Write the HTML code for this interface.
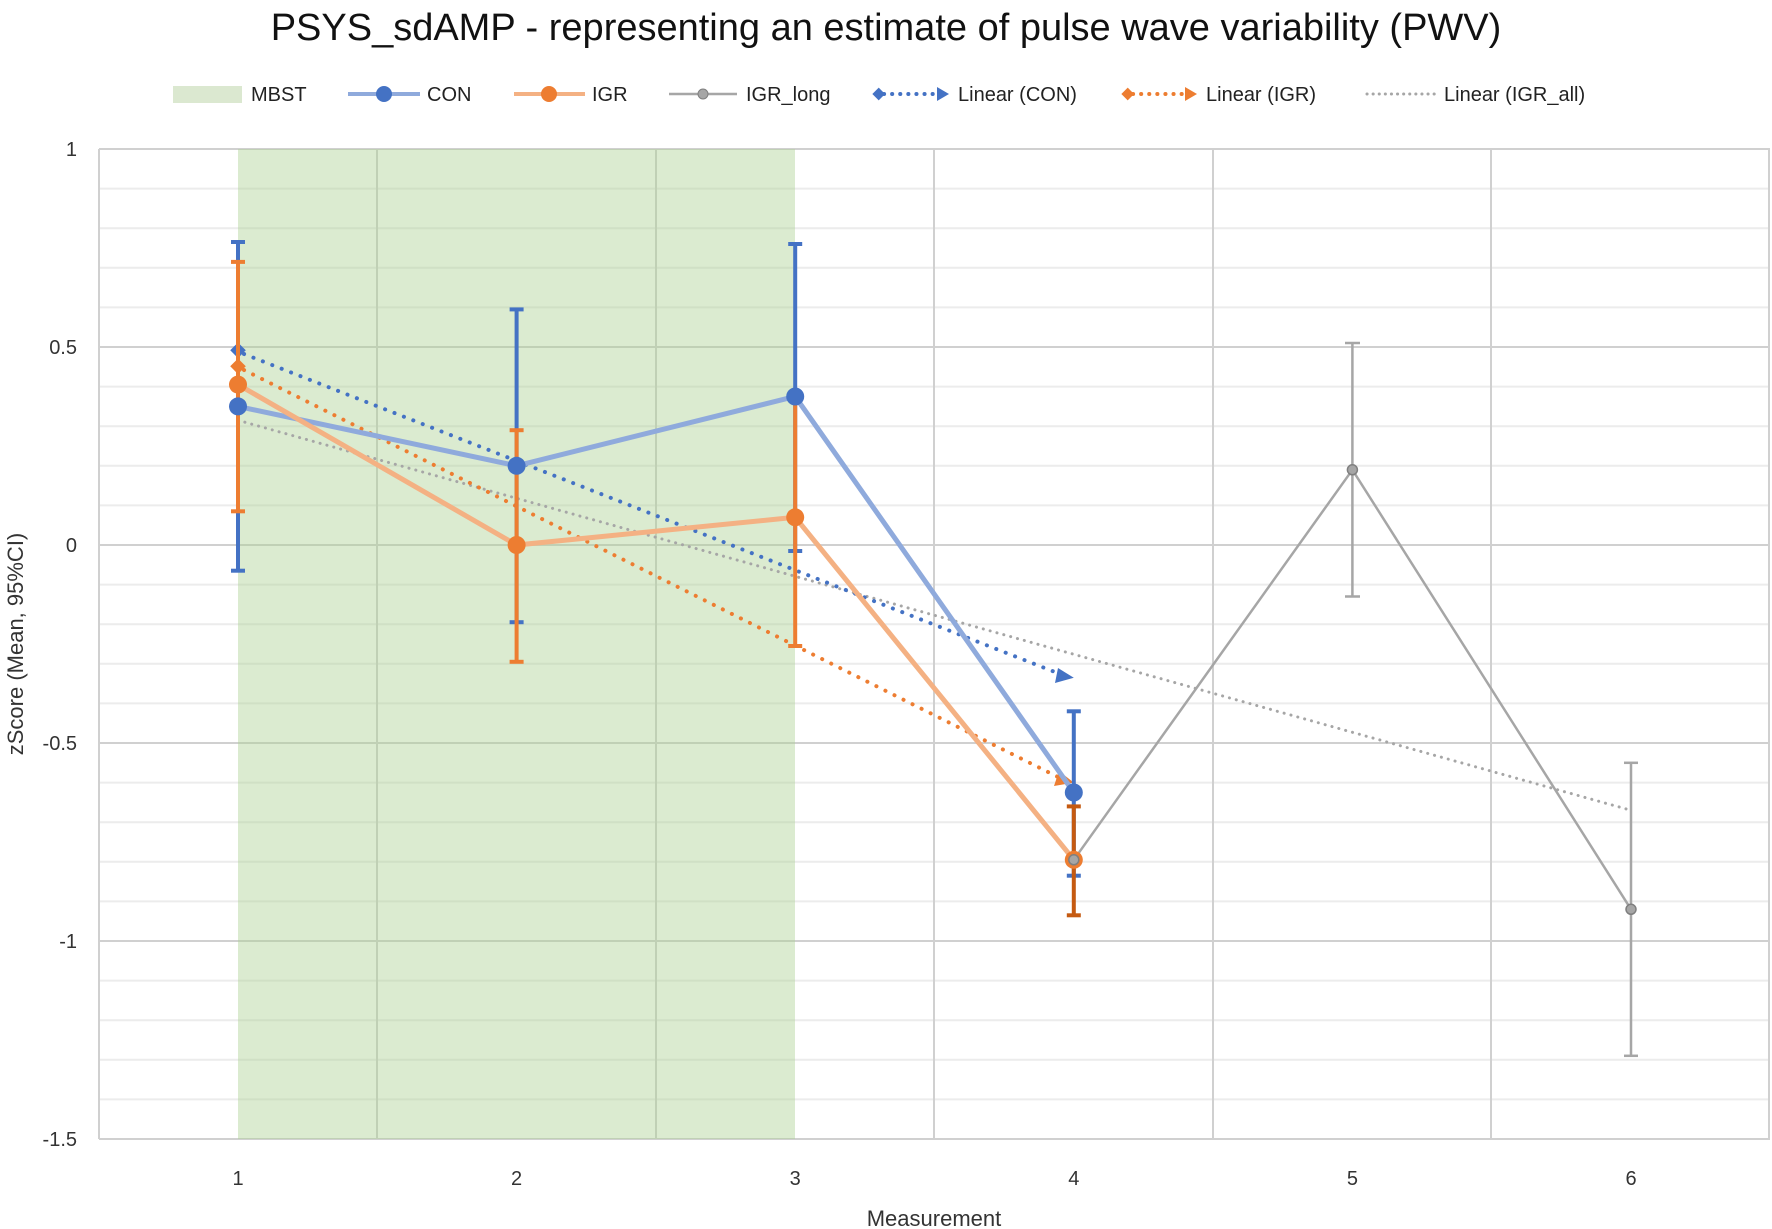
<!DOCTYPE html>
<html><head><meta charset="utf-8"><style>body{margin:0;background:#fff}svg{display:block}text{font-family:"Liberation Sans",sans-serif}</style></head><body>
<svg width="1772" height="1229" viewBox="0 0 1772 1229" xmlns="http://www.w3.org/2000/svg">
<rect width="1772" height="1229" fill="#fff"/>
<text x="886" y="40" font-size="38" text-anchor="middle" fill="#111">PSYS_sdAMP - representing an estimate of pulse wave variability (PWV)</text>
<!-- minor grid -->
<g stroke="#ececec" stroke-width="2">
<line x1="99" x2="1770" y1="188.6" y2="188.6"/><line x1="99" x2="1770" y1="228.2" y2="228.2"/><line x1="99" x2="1770" y1="267.8" y2="267.8"/><line x1="99" x2="1770" y1="307.4" y2="307.4"/>
<line x1="99" x2="1770" y1="386.6" y2="386.6"/><line x1="99" x2="1770" y1="426.2" y2="426.2"/><line x1="99" x2="1770" y1="465.8" y2="465.8"/><line x1="99" x2="1770" y1="505.4" y2="505.4"/>
<line x1="99" x2="1770" y1="584.6" y2="584.6"/><line x1="99" x2="1770" y1="624.2" y2="624.2"/><line x1="99" x2="1770" y1="663.8" y2="663.8"/><line x1="99" x2="1770" y1="703.4" y2="703.4"/>
<line x1="99" x2="1770" y1="782.6" y2="782.6"/><line x1="99" x2="1770" y1="822.2" y2="822.2"/><line x1="99" x2="1770" y1="861.8" y2="861.8"/><line x1="99" x2="1770" y1="901.4" y2="901.4"/>
<line x1="99" x2="1770" y1="980.6" y2="980.6"/><line x1="99" x2="1770" y1="1020.2" y2="1020.2"/><line x1="99" x2="1770" y1="1059.8" y2="1059.8"/><line x1="99" x2="1770" y1="1099.4" y2="1099.4"/>
</g>
<g stroke="#d0d0d0" stroke-width="2">
<line x1="99" x2="1770" y1="149" y2="149"/><line x1="99" x2="1770" y1="347" y2="347"/><line x1="99" x2="1770" y1="545" y2="545"/><line x1="99" x2="1770" y1="743" y2="743"/><line x1="99" x2="1770" y1="941" y2="941"/><line x1="99" x2="1770" y1="1139" y2="1139"/>
<line x1="99" x2="99" y1="149" y2="1139"/><line x1="377" x2="377" y1="149" y2="1139"/><line x1="656" x2="656" y1="149" y2="1139"/><line x1="934" x2="934" y1="149" y2="1139"/><line x1="1213" x2="1213" y1="149" y2="1139"/><line x1="1491" x2="1491" y1="149" y2="1139"/><line x1="1769" x2="1769" y1="149" y2="1139"/>
</g>
<rect x="238" y="149" width="557" height="990" fill="rgb(169,208,142)" fill-opacity="0.42"/>
<!-- tick labels -->
<g font-size="20" fill="#333" text-anchor="end">
<text x="77" y="156">1</text><text x="77" y="354">0.5</text><text x="77" y="552">0</text><text x="77" y="750">-0.5</text><text x="77" y="948">-1</text><text x="77" y="1146">-1.5</text>
</g>
<g font-size="20" fill="#333" text-anchor="middle">
<text x="238" y="1185">1</text><text x="516.6" y="1185">2</text><text x="795.2" y="1185">3</text><text x="1073.8" y="1185">4</text><text x="1352.4" y="1185">5</text><text x="1631" y="1185">6</text>
</g>
<text x="934" y="1226" font-size="22" fill="#333" text-anchor="middle">Measurement</text>
<text transform="translate(23,644) rotate(-90)" font-size="22" fill="#333" text-anchor="middle">zScore (Mean, 95%CI)</text>
<!-- trendlines -->
<line x1="238" y1="420.3" x2="1631" y2="810.3" stroke="#a6a6a6" stroke-width="3" stroke-dasharray="0.1 7" stroke-linecap="round"/>
<line x1="244" y1="354" x2="1060" y2="674" stroke="#4472c4" stroke-width="4" stroke-dasharray="0.1 10" stroke-linecap="round"/>
<polygon points="1073.8,677.7 1058,668 1055,683" fill="#4472c4"/>
<rect x="232" y="345" width="11" height="11" fill="#4472c4" transform="rotate(45 238 351)"/>
<line x1="244" y1="370" x2="1060" y2="778" stroke="#ed7d31" stroke-width="4" stroke-dasharray="0.1 10" stroke-linecap="round"/>
<polygon points="1073.8,782.6 1059,771 1054,786" fill="#ed7d31"/>
<rect x="232" y="361" width="11" height="11" fill="#ed7d31" transform="rotate(45 238 367)"/>
<!-- series lines -->
<polyline points="238,406.4 516.6,465.8 795.2,396.5 1073.8,792.5" fill="none" stroke="#8faadc" stroke-width="5"/>
<polyline points="238,384.6 516.6,545 795.2,517.3 1073.8,859.8" fill="none" stroke="#f4b183" stroke-width="5"/>
<polyline points="1073.8,859.8 1352.4,469.8 1631,909.3" fill="none" stroke="#a6a6a6" stroke-width="2.5"/>
<!-- error bars -->
<g stroke="#4472c4" stroke-width="4">
<line x1="238" x2="238" y1="242" y2="570.7"/><line x1="231" x2="245" y1="242" y2="242"/><line x1="231" x2="245" y1="570.7" y2="570.7"/>
<line x1="516.6" x2="516.6" y1="309.4" y2="622.2"/><line x1="509.6" x2="523.6" y1="309.4" y2="309.4"/><line x1="509.6" x2="523.6" y1="622.2" y2="622.2"/>
<line x1="795.2" x2="795.2" y1="244" y2="551"/><line x1="788.2" x2="802.2" y1="244" y2="244"/><line x1="788.2" x2="802.2" y1="551" y2="551"/>
<line x1="1073.8" x2="1073.8" y1="711.3" y2="875.7"/><line x1="1066.8" x2="1080.8" y1="711.3" y2="711.3"/><line x1="1066.8" x2="1080.8" y1="875.7" y2="875.7"/>
</g>
<g stroke="#ed7d31" stroke-width="4">
<line x1="238" x2="238" y1="261.9" y2="511.3"/><line x1="231" x2="245" y1="261.9" y2="261.9"/><line x1="231" x2="245" y1="511.3" y2="511.3"/>
<line x1="516.6" x2="516.6" y1="430.2" y2="661.8"/><line x1="509.6" x2="523.6" y1="430.2" y2="430.2"/><line x1="509.6" x2="523.6" y1="661.8" y2="661.8"/>
<line x1="795.2" x2="795.2" y1="396.5" y2="646"/><line x1="788.2" x2="802.2" y1="646" y2="646"/>
</g>
<g stroke="#c55a11" stroke-width="4">
<line x1="1073.8" x2="1073.8" y1="806.4" y2="915.3"/><line x1="1066.8" x2="1080.8" y1="806.4" y2="806.4"/><line x1="1066.8" x2="1080.8" y1="915.3" y2="915.3"/>
</g>
<g stroke="#a6a6a6" stroke-width="2.5">
<line x1="1352.4" x2="1352.4" y1="343" y2="596.5"/><line x1="1345" x2="1360" y1="343" y2="343"/><line x1="1345" x2="1360" y1="596.5" y2="596.5"/>
<line x1="1631" x2="1631" y1="762.8" y2="1055.8"/><line x1="1624" x2="1638" y1="762.8" y2="762.8"/><line x1="1624" x2="1638" y1="1055.8" y2="1055.8"/>
</g>
<!-- markers -->
<g fill="#4472c4"><circle cx="238" cy="406.4" r="9"/><circle cx="516.6" cy="465.8" r="9"/><circle cx="795.2" cy="396.5" r="9"/><circle cx="1073.8" cy="792.5" r="9"/></g>
<g fill="#ed7d31"><circle cx="238" cy="384.6" r="9"/><circle cx="516.6" cy="545" r="9"/><circle cx="795.2" cy="517.3" r="9"/><circle cx="1073.8" cy="859.8" r="9"/></g>
<g fill="#a6a6a6" stroke="#7f7f7f" stroke-width="1.5"><circle cx="1073.8" cy="859.8" r="5"/><circle cx="1352.4" cy="469.8" r="5"/><circle cx="1631" cy="909.3" r="5"/></g>
<!-- legend -->
<g font-size="20" fill="#222">
<rect x="173" y="86" width="69" height="17" fill="#dbe8d0"/><text x="251" y="101">MBST</text>
<line x1="348" x2="420" y1="94" y2="94" stroke="#8faadc" stroke-width="4"/><circle cx="384" cy="94" r="8" fill="#4472c4"/><text x="427" y="101">CON</text>
<line x1="514" x2="585" y1="94" y2="94" stroke="#f4b183" stroke-width="4"/><circle cx="549" cy="94" r="8" fill="#ed7d31"/><text x="592" y="101">IGR</text>
<line x1="669" x2="737" y1="94" y2="94" stroke="#a6a6a6" stroke-width="2.5"/><circle cx="703" cy="94" r="5" fill="#a6a6a6" stroke="#7f7f7f"/><text x="746" y="101">IGR_long</text>
<line x1="884" x2="936" y1="94" y2="94" stroke="#4472c4" stroke-width="4" stroke-dasharray="0.1 8" stroke-linecap="round"/><rect x="874" y="89" width="9" height="9" fill="#4472c4" transform="rotate(45 878 94)"/><polygon points="949,94 937,87 937,101" fill="#4472c4"/><text x="958" y="101">Linear (CON)</text>
<line x1="1133" x2="1184" y1="94" y2="94" stroke="#ed7d31" stroke-width="4" stroke-dasharray="0.1 8" stroke-linecap="round"/><rect x="1123" y="89" width="9" height="9" fill="#ed7d31" transform="rotate(45 1127 94)"/><polygon points="1197,94 1185,87 1185,101" fill="#ed7d31"/><text x="1206" y="101">Linear (IGR)</text>
<line x1="1367" x2="1437" y1="94" y2="94" stroke="#a6a6a6" stroke-width="3" stroke-dasharray="0.1 6" stroke-linecap="round"/><text x="1444" y="101">Linear (IGR_all)</text>
</g>
</svg>
</body></html>
